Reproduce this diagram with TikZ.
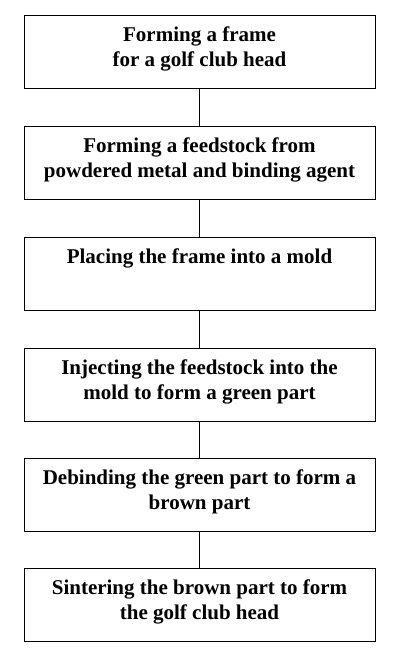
\documentclass[tikz,border=0pt]{standalone}
\usepackage{fontspec}
\setmainfont{Liberation Serif}
\begin{document}
\begin{tikzpicture}[x=1pt,y=-1pt,
  stepbox/.style={draw=black, line width=0.9pt, inner sep=0pt, anchor=north,
    font=\bfseries\fontsize{21}{25}\selectfont},
  link/.style={draw=black, line width=0.9pt}]
\useasboundingbox (0,0) rectangle (400,666);
\newcommand{\boxtext}[1]{\parbox[c][73pt][t]{351pt}{\centering\rule{0pt}{26pt}#1}}
\node[stepbox] (b1) at (199.5,15) {\boxtext{Forming a frame\\for a golf club head}};
\node[stepbox] (b2) at (199.5,126) {\boxtext{Forming a feedstock from\\powdered metal and binding agent}};
\node[stepbox] (b3) at (199.5,237) {\boxtext{Placing the frame into a mold}};
\node[stepbox] (b4) at (199.5,348) {\boxtext{Injecting the feedstock into the\\mold to form a green part}};
\node[stepbox] (b5) at (199.5,458) {\boxtext{Debinding the green part to form a\\brown part}};
\node[stepbox] (b6) at (199.5,568) {\boxtext{Sintering the brown part to form\\the golf club head}};
\draw[link] (b1.south) -- (b2.north);
\draw[link] (b2.south) -- (b3.north);
\draw[link] (b3.south) -- (b4.north);
\draw[link] (b4.south) -- (b5.north);
\draw[link] (b5.south) -- (b6.north);
\end{tikzpicture}
\end{document}
